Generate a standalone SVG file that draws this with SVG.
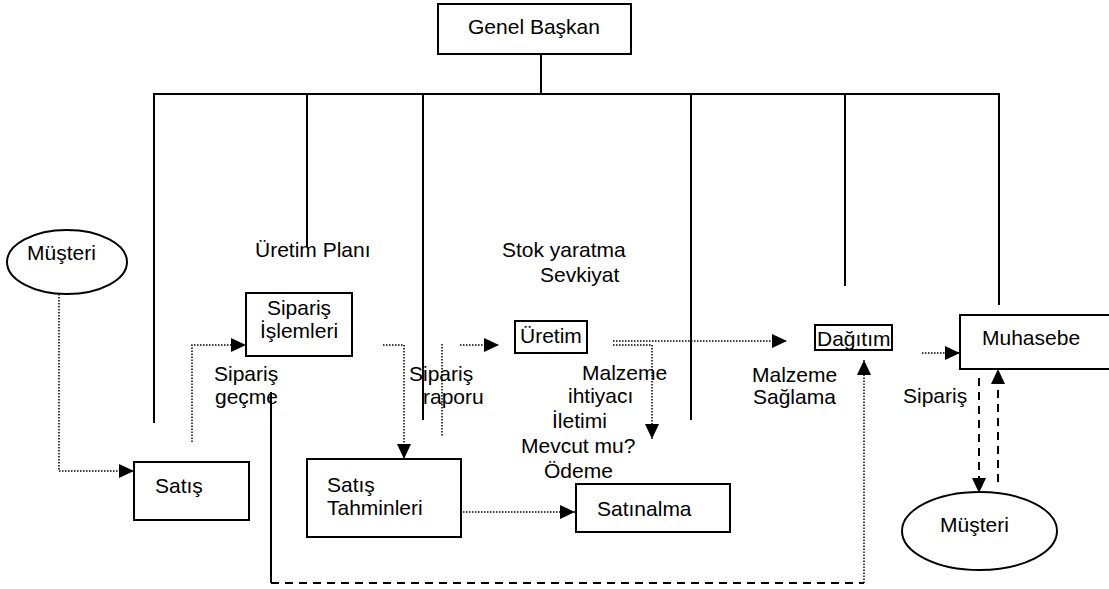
<svg xmlns="http://www.w3.org/2000/svg" width="1109" height="589" viewBox="0 0 1109 589">
<defs>
<marker id="ah" markerUnits="userSpaceOnUse" markerWidth="15" markerHeight="14" refX="15" refY="7" orient="auto">
<path d="M0,0 L15,7 L0,14 z" fill="#000"/>
</marker>
</defs>
<style>
text{font-family:"Liberation Sans",Arial,sans-serif;font-size:21px;fill:#000}
.box{fill:#fff;stroke:#000;stroke-width:2}
.org{fill:none;stroke:#000;stroke-width:2}
.dot{fill:none;stroke:#000;stroke-width:1.5;stroke-dasharray:1.5 1.5}
.dash{fill:none;stroke:#000;stroke-width:2;stroke-dasharray:8 6}
.solid{fill:none;stroke:#000;stroke-width:2}
</style>
<rect width="1109" height="589" fill="#fff"/>
<g id="connectors">
<path class="org" d="M541,54 V94 M153,94 H1000 M154,94 V423 M307,94 V247 M423,94 V420 M691,94 V420 M845,94 V286 M999,94 V305"/>
<path class="dot" d="M59,294 V471 H134" marker-end="url(#ah)"/>
<path class="dot" d="M192,442 V345 H246" marker-end="url(#ah)"/>
<path class="dot" d="M383,345 H404 V459" marker-end="url(#ah)"/>
<path class="dot" d="M442,344 V437"/>
<path class="dot" d="M460,345 H499" marker-end="url(#ah)"/>
<path class="dot" d="M613,341 H787" marker-end="url(#ah)"/>
<path class="dot" d="M613,345 H652 V439" marker-end="url(#ah)"/>
<path class="dot" d="M922,353 H960" marker-end="url(#ah)"/>
<path class="dot" d="M463,512 H575" marker-end="url(#ah)"/>
<path class="dash" d="M979,378 V493" marker-end="url(#ah)"/>
<path class="dash" d="M998,482 V369" marker-end="url(#ah)"/>
<path class="solid" d="M271,392 V583"/>
<path class="dash" d="M271,583 H864"/>
<path class="dot" d="M864,583 V360" marker-end="url(#ah)"/>
</g>
<g id="genel-baskan">
<rect class="box" x="438" y="4" width="193" height="50"/>
<text x="534" y="34" text-anchor="middle">Genel Başkan</text>
</g>
<g id="musteri-left">
<ellipse cx="67" cy="262" rx="60" ry="32" fill="#fff" stroke="#000" stroke-width="2"/>
<text x="27" y="260">Müşteri</text>
</g>
<g id="satis">
<rect class="box" x="134" y="462" width="115" height="58"/>
<text x="155" y="493">Satış</text>
</g>
<g id="siparis-islemleri">
<rect class="box" x="246" y="293" width="106" height="63"/>
<text x="299" y="315" text-anchor="middle">Sipariş</text>
<text x="299" y="338" text-anchor="middle">İşlemleri</text>
</g>
<g id="uretim">
<rect class="box" x="515" y="321" width="72" height="32"/>
<text x="520" y="343">Üretim</text>
</g>
<g id="dagitim">
<rect class="box" x="815" y="325" width="77" height="25"/>
<text x="817" y="346">Dağıtım</text>
</g>
<g id="muhasebe">
<rect class="box" x="960" y="315" width="160" height="54"/>
<text x="982" y="345">Muhasebe</text>
</g>
<g id="satis-tahminleri">
<rect class="box" x="307" y="459" width="154" height="78"/>
<text x="327" y="492">Satış</text>
<text x="327" y="515">Tahminleri</text>
</g>
<g id="satinalma">
<rect class="box" x="576" y="484" width="154" height="48"/>
<text x="597" y="516">Satınalma</text>
</g>
<g id="musteri-right">
<ellipse cx="979.5" cy="531" rx="77.5" ry="39" fill="#fff" stroke="#000" stroke-width="2"/>
<text x="940" y="532">Müşteri</text>
</g>
<g id="labels">
<text x="255" y="257">Üretim Planı</text>
<text x="502" y="257">Stok yaratma</text>
<text x="540" y="282">Sevkiyat</text>
<text x="214" y="381">Sipariş</text>
<text x="215" y="404">geçme</text>
<text x="409" y="381">Sipariş</text>
<text x="423" y="404">raporu</text>
<text x="582" y="380">Malzeme</text>
<text x="568" y="403">ihtiyacı</text>
<text x="552" y="428">İletimi</text>
<text x="521" y="453">Mevcut mu?</text>
<text x="544" y="478">Ödeme</text>
<text x="752" y="382">Malzeme</text>
<text x="753" y="404">Sağlama</text>
<text x="903" y="403">Sipariş</text>
</g>
</svg>
